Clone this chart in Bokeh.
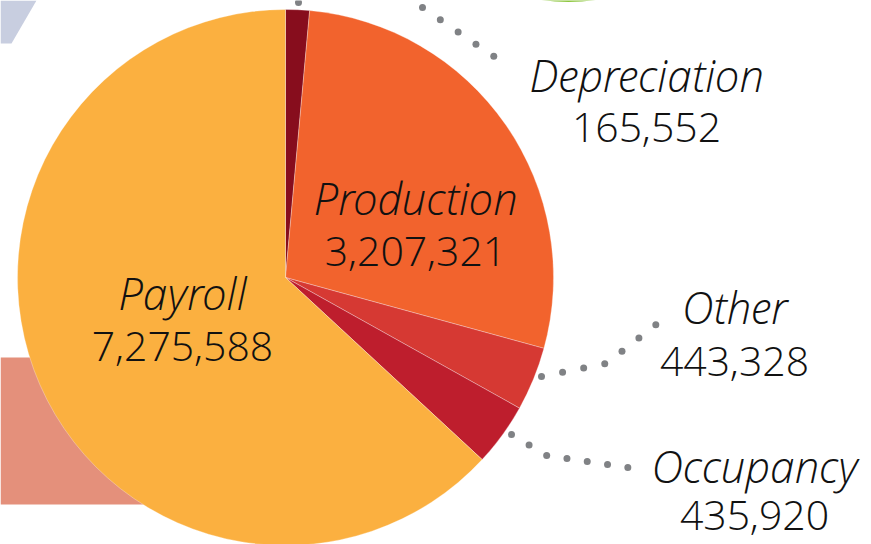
import numpy as np
from bokeh.plotting import figure
from bokeh.models import Range1d, ColumnDataSource
from bokeh.core.properties import value
from bokeh.embed import file_html
from bokeh.resources import INLINE

# ---- data ----
categories = ["Depreciation", "Production", "Other", "Occupancy", "Payroll"]
amounts = [165552, 3207321, 443328, 435920, 7275588]
colors = ["#870D1D", "#F2632D", "#D63933", "#BE1E2D", "#FBB040"]

# ---- layout (reference pixel coords, y measured from top) ----
W, H = 871, 544
CX, CY, R = 285, 277, 268
label_pos = {  # center x, baseline of name, baseline of number
    "Depreciation": (646, 90, 143),
    "Production": (415, 213, 267),
    "Other": (734, 322, 377),
    "Occupancy": (754, 481, 531),
    "Payroll": (182, 308, 362),
}
BASE_SHIFT = -16
FONT = value("Open Sans Light")


def Y(ry):
    return H - ry


p = figure(width=W, height=H, x_range=Range1d(0, W), y_range=Range1d(0, H),
           output_backend="svg", toolbar_location=None, min_border=0,
           x_axis_location=None, y_axis_location=None)
p.grid.visible = False
p.outline_line_color = None
p.background_fill_color = "white"
p.border_fill_color = "white"

# decorative background shapes
p.patch([0, 36, 11, 0], [Y(0), Y(0), Y(43), Y(43)], fill_color="#C8CEE0", line_color=None)
p.patch([0, 300, 300, 0], [Y(357), Y(357), Y(504), Y(504)], fill_color="#E4907B", line_color=None)
p.ellipse(x=568, y=Y(-184), width=371, height=371, fill_color="#8DC63F", line_color=None)

# pie
vals = np.array(amounts, dtype=float)
frac = vals / vals.sum()
cum = np.concatenate([[0], np.cumsum(frac)])
start = np.pi / 2 - 2 * np.pi * cum[:-1]
end = np.pi / 2 - 2 * np.pi * cum[1:]
src = ColumnDataSource(dict(cat=categories, start=start, end=end, color=colors))
p.wedge(x=CX, y=Y(CY), radius=R, start_angle="start", end_angle="end", direction="clock",
        fill_color="color", line_color="white", line_width=0.6, line_alpha=0.5, source=src)


# leader dots
def dots(path, step):
    pts = [np.array(pt, dtype=float) for pt in path]
    out = [pts[0]]
    carry = 0.0
    for a, b in zip(pts[:-1], pts[1:]):
        seg = b - a
        L = np.hypot(*seg)
        d = step - carry
        while d <= L + 1e-6:
            out.append(a + seg * d / L)
            d += step
        carry = L - (d - step)
    return [q[0] for q in out], [Y(q[1]) for q in out]


leaders = [
    ([(298, 2)], 20),
    ([(422, 7), (511, 68)], 21.6),
    ([(541, 376), (606, 363), (662, 319)], 21.5),
    ([(511, 434), (546, 455), (566, 458), (628, 467)], 20.5),
]
for path, step in leaders:
    xs, ys = dots(path, step)
    p.scatter(xs, ys, size=7, fill_color="#808285", line_color=None)

# labels
lx = [label_pos[c][0] for c in categories]
ly1 = [Y(label_pos[c][1] + BASE_SHIFT) for c in categories]
ly2 = [Y(label_pos[c][2] + BASE_SHIFT) for c in categories]
num_text = [f"{v:,}" for v in amounts]
p.text(x=lx, y=ly1, text=categories, text_font=FONT, text_font_style="italic",
       text_font_size="44px", text_align="center", text_baseline="alphabetic", text_color="#111111")
p.text(x=lx, y=ly2, text=num_text, text_font=FONT,
       text_font_size="41px", text_align="center", text_baseline="alphabetic", text_color="#111111")

open("out.html", "w").write(file_html(p, INLINE))
